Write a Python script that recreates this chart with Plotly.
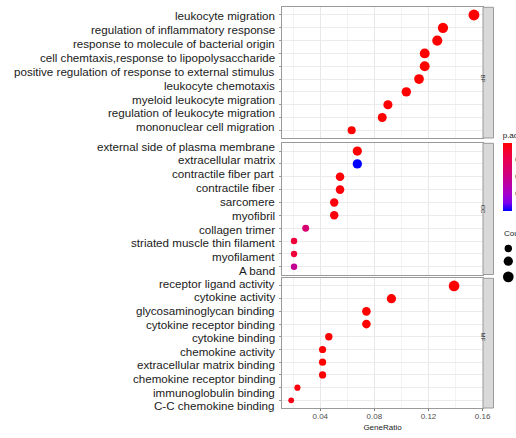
import plotly.graph_objects as go
import numpy as np

W, H = 516, 438
FONT = "Liberation Sans, Arial, sans-serif"

# ---------------- enrichment results ----------------
bp_labels = [
    "leukocyte migration",
    "regulation of inflammatory response",
    "response to molecule of bacterial origin",
    "cell chemtaxis,response to lipopolysaccharide",
    "positive regulation of response to external stimulus",
    "leukocyte chemotaxis",
    "myeloid leukocyte migration",
    "regulation of leukocyte migration",
    "mononuclear cell migration",
]
bp_ratio = [0.1536, 0.1307, 0.1265, 0.1172, 0.1172, 0.1130, 0.1036, 0.0900, 0.0858, 0.0632]
bp_count = [32, 27, 26, 24, 24, 23, 21, 19, 18, 13]
bp_padj = [2.1e-13, 5.4e-12, 8.9e-12, 1.5e-11, 1.5e-11, 3.2e-11, 6.0e-11, 1.1e-10, 2.4e-10, 4.8e-09]

cc_labels = [
    "external side of plasma membrane",
    "extracellular matrix",
    "contractile fiber part",
    "contractile fiber",
    "sarcomere",
    "myofibril",
    "collagen trimer",
    "striated muscle thin filament",
    "myofilament",
    "A band",
]
cc_ratio = [0.0674, 0.0674, 0.0546, 0.0546, 0.0503, 0.0503, 0.0292, 0.0206, 0.0206, 0.0206]
cc_count = [20, 20, 16, 16, 15, 15, 8, 6, 6, 6]
cc_padj = [3.1e-06, 1.02e-03, 2.2e-05, 2.2e-05, 3.5e-05, 3.5e-05, 4.0e-04, 1.7e-04, 1.7e-04, 5.5e-04]

mf_labels = [
    "receptor ligand activity",
    "cytokine activity",
    "glycosaminoglycan binding",
    "cytokine receptor binding",
    "cytokine binding",
    "chemokine activity",
    "extracellular matrix binding",
    "chemokine receptor binding",
    "immunoglobulin binding",
    "C-C chemokine binding",
]
mf_ratio = [0.1389, 0.0926, 0.0741, 0.0741, 0.0463, 0.0417, 0.0417, 0.0417, 0.0231, 0.0185]
mf_count = [30, 20, 16, 16, 10, 9, 9, 9, 5, 4]
mf_padj = [4.0e-12, 1.3e-10, 2.7e-08, 3.1e-08, 5.2e-07, 9.8e-07, 1.6e-06, 2.4e-06, 3.5e-05, 6.1e-05]

ontologies = ["BP", "CC", "MF"]
count_breaks = [10, 20, 30]
padj_breaks = [0.00025, 0.00050, 0.00075]

panels = [
    (bp_labels, bp_ratio, bp_count, bp_padj),
    (cc_labels, cc_ratio, cc_count, cc_padj),
    (mf_labels, mf_ratio, mf_count, mf_padj),
]

# ---------------- scales ----------------
def dot_size(c):
    """Marker diameter (px) grows linearly with sqrt(Count)."""
    return 3.0 + 1.4 * np.sqrt(np.asarray(c, dtype=float))

PMAX = max(max(p) for _, _, _, p in panels)
# red (small p.adjust) -> blue (large p.adjust), Lab-like path through magenta
colorscale = [
    [0.0, "#0000FF"], [0.125, "#7F00EC"], [0.25, "#A600CE"], [0.5, "#CA0088"],
    [0.75, "#E90050"], [0.875, "#F40031"], [1.0, "#FF0000"],
]

# ---------------- layout geometry (pixels) ----------------
PX0, PX1 = 282, 483
panel_y = [(7.3, 138.0), (143.3, 274.5), (278.3, 408.0)]
label_off = [0.05, -0.39, -0.21]
label_step = [1.085, 1.077, 1.07]
STRIP_X1 = 493.5
XRANGE = [0.0117, 0.1603]
BORDER = "#9a9a9a"


def px_x(p):
    return p / W


def px_y(p):
    return 1 - p / H


fig = go.Figure()
annotations = []
shapes = []
layout = {}

for k, (labels, ratio, count, padj) in enumerate(panels):
    n = k + 1
    sfx = "" if n == 1 else str(n)
    rows = list(range(len(ratio)))
    fig.add_trace(go.Scatter(
        x=ratio, y=rows, mode="markers",
        marker=dict(size=dot_size(count), color=[-p for p in padj], opacity=1,
                    coloraxis="coloraxis", line=dict(width=0)),
        xaxis="x" + sfx, yaxis="y" + sfx, showlegend=False,
        hovertemplate="GeneRatio=%{x}<extra></extra>",
    ))
    top, bot = panel_y[k]
    bottom_panel = (k == len(panels) - 1)
    layout["xaxis" + sfx] = dict(
        domain=[px_x(PX0), px_x(PX1)], range=XRANGE, anchor="y" + sfx,
        showline=True, mirror=True, linecolor=BORDER, linewidth=1,
        showgrid=True, gridcolor="#e8e8e8", gridwidth=1,
        tick0=0, dtick=0.04, tickformat=".2f",
        minor=dict(dtick=0.02, tick0=0, showgrid=True, gridcolor="#f3f3f3", gridwidth=1),
        zeroline=False, automargin=False,
        showticklabels=bottom_panel, ticklabelstandoff=-2,
        ticks="outside" if bottom_panel else "", ticklen=2, tickcolor="#777",
        tickfont=dict(family=FONT, size=8, color="#4d4d4d"),
        title=dict(text="GeneRatio" if bottom_panel else "",
                   font=dict(family=FONT, size=8, color="#1a1a1a"), standoff=4),
    )
    if n > 1:
        layout["xaxis" + sfx]["matches"] = "x"
    layout["yaxis" + sfx] = dict(
        domain=[px_y(bot), px_y(top)], range=[len(ratio) - 0.4, -0.6], anchor="x" + sfx,
        showline=True, mirror=True, linecolor=BORDER, linewidth=1,
        tickmode="array", tickvals=rows, ticktext=[""] * len(rows),
        ticks="outside", ticklen=2, tickcolor="#999", automargin=False,
        showgrid=True, gridcolor="#ebebeb", gridwidth=1, zeroline=False,
    )
    # term names
    for i, lab in enumerate(labels):
        annotations.append(dict(
            text=lab, xref="paper", x=px_x(276.5), xanchor="right",
            yref="y" + sfx, y=label_off[k] + i * label_step[k], yanchor="middle",
            showarrow=False, font=dict(family=FONT, size=11.6, color="#1a1a1a"),
        ))
    # facet strip
    shapes.append(dict(
        type="rect", xref="paper", yref="paper",
        x0=px_x(PX1), x1=px_x(STRIP_X1), y0=px_y(bot), y1=px_y(top),
        fillcolor="#d9d9d9", line=dict(color=BORDER, width=1), layer="above",
    ))
    annotations.append(dict(
        text=ontologies[k], xref="paper", yref="paper",
        x=px_x((PX1 + STRIP_X1) / 2), y=px_y((top + bot) / 2),
        textangle=90, showarrow=False,
        font=dict(family=FONT, size=6, color="#333333"),
    ))

# Count size legend drawn in its own small axes; key height follows key size
key_d = dot_size(count_breaks)
key_h = 1.85 * key_d - 2.75
key_c = 243 + np.cumsum(key_h) - key_h / 2
fig.add_trace(go.Scatter(
    x=[508.3] * len(count_breaks), y=key_c, mode="markers",
    marker=dict(size=key_d, color="black", opacity=1, line=dict(width=0)),
    xaxis="x4", yaxis="y4", showlegend=False, hoverinfo="skip", cliponaxis=False,
))
for b, c in zip(count_breaks, key_c):
    annotations.append(dict(
        text=str(b), xref="x4", yref="y4", x=519, y=c, xanchor="left",
        showarrow=False, font=dict(family=FONT, size=8, color="#4d4d4d"),
    ))
layout["xaxis4"] = dict(domain=[px_x(498), 1.0], range=[498, W], visible=False,
                        anchor="y4", fixedrange=True)
layout["yaxis4"] = dict(domain=[px_y(290), px_y(225)], range=[290, 225], visible=False,
                        anchor="x4", fixedrange=True)
annotations.append(dict(
    text="Count", xref="paper", yref="paper", x=px_x(501.5), y=px_y(233),
    xanchor="left", yanchor="middle", showarrow=False,
    font=dict(family=FONT, size=8, color="#1a1a1a"),
))

fig.update_layout(
    width=W, height=H,
    margin=dict(l=0, r=0, t=0, b=0, autoexpand=False),
    paper_bgcolor="white", plot_bgcolor="white",
    showlegend=False,
    shapes=shapes, annotations=annotations,
    coloraxis=dict(
        colorscale=colorscale, cmin=-PMAX, cmax=0,
        colorbar=dict(
            title=dict(text="p.adjust", side="top",
                       font=dict(family=FONT, size=8, color="#1a1a1a")),
            thickness=9.3, thicknessmode="pixels",
            len=82, lenmode="pixels",
            x=px_x(502.7), xanchor="left", y=px_y(211), yanchor="bottom",
            xpad=0, ypad=0, outlinewidth=0,
            ticks="outside", ticklen=2, tickcolor="rgba(0,0,0,0)",
            tickmode="array", tickvals=[-p for p in padj_breaks],
            ticktext=[f"{p:.5f}" for p in padj_breaks],
            tickfont=dict(family=FONT, size=8, color="#4d4d4d"),
        ),
    ),
    **layout,
)

fig.write_html("out.html")
